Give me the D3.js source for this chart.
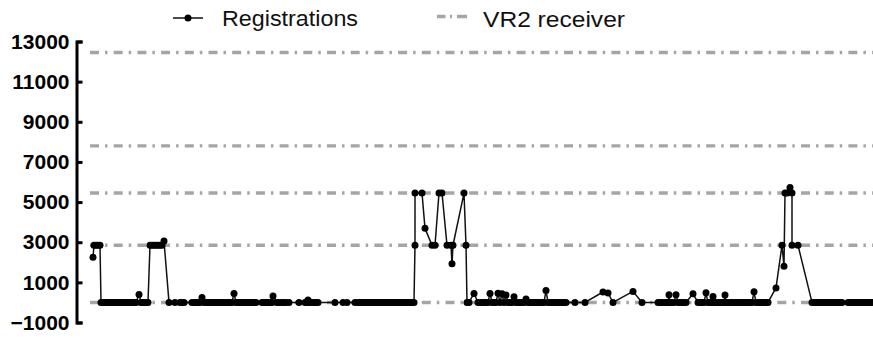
<!DOCTYPE html>
<html>
<head>
<meta charset="utf-8">
<script src="https://cdn.jsdelivr.net/npm/d3@7"></script>
<style>
  html, body { margin: 0; padding: 0; background: #fff; }
  svg { display: block; }
</style>
</head>
<body>
<svg id="chart" width="873" height="338"></svg>
<script>
// ---- data (day index, number of registrations) ----
const registrations = [
  [1.5,2250],[2,2850],[3,2850],[4,2850],[5,2850],[5.5,0],
  [6,0],[7,0],[8,0],[9,0],[10,0],[11,0],[12,0],[13,0],[14,0],[15,0],[16,0],[17,0],[18,0],[19,0],[20,0],[21,0],[22,0],[23,0],
  [24.5,400],[25.5,0],[26,0],[27,0],[28,0],[29,0],
  [30,2850],[31,2850],[32,2850],[33,2850],[34,2850],[35,2850],[36,2850],[37,3060],
  [39.5,0],[42.5,0],[45,0],[46,0],[47,0],
  [51,0],[52,0],[53,0],[54,0],[55,0],[56,250],[57,0],[58,0],[59,0],[60,0],[61,0],[62,0],[63,0],[64,0],[65,0],[66,0],[67,0],[68,0],[69,0],[70,0],[71,0],
  [72,450],[73,0],[74,0],[75,0],[76,0],[77,0],[78,0],[79,0],[80,0],[81,0],[82,0],[83,0],
  [86,0],[87,0],[88,0],[89,0],[90,0],[91,0],[91.5,320],[93.5,0],
  [94,0],[95,0],[96,0],[97,0],[98,0],[99.5,0],[104.5,0],
  [107.5,0],[108.5,0],[109,120],[110,0],[111,0],[112,0],[113,0],[114,0],
  [122.5,0],[126.5,0],[128.5,0],[132.5,0],
  [134,0],[135,0],[136,0],[137,0],[138,0],[139,0],[140,0],[141,0],[142,0],[143,0],[144,0],[145,0],[146,0],[147,0],[148,0],
  [149,0],[150,0],[151,0],[152,0],[153,0],[154,0],[155,0],[156,0],[157,0],[158,0],[159,0],[160,0],[161,0],[162,0],
  [162.5,2850],[162.5,5450],[166,5450],[167.5,3690],[171,2850],[172.5,2850],[174.5,5450],[176,5450],
  [178.5,2850],[180.5,2850],[181,1930],[181.5,2850],[187,5450],[188,2850],[188.5,0],
  [189.5,0],[192,450],[194,0],
  [195,0],[196,0],[197,0],[198,0],[199,0],[200,450],[201,0],[202,0],[203,0],[204,460],[205,0],[206,430],[207,0],[208,370],
  [209,0],[210,0],[211,0],[212,280],[213,0],[214,0],[215,0],[216,0],[217,0],[218,170],[219,0],[220,0],[221,0],[222,0],
  [223,0],[224,0],[225,0],[226,0],[227,0],[228,600],[229,0],[230,0],[231,0],[232,0],[233,0],[234,0],[235,0],[236,0],[237,0],[238,0],
  [242.5,0],[247.5,0],[256.5,520],[259,470],[261.5,0],[271.5,550],[276,0],
  [284,0],[285,0],[286,0],[287,0],[288,0],[289,0],[289.5,380],[290,0],[291,0],[292,0],[293,380],[294,0],[295,0],[296,0],[297,0],[298,0],
  [301.5,430],
  [304,0],[305,0],[306,0],[307,0],[308,480],[309,0],[310,0],[311,0],[311.5,300],[312,0],[313,0],[314,0],[315,0],[316,0],[317,0],[317.5,370],
  [318,0],[319,0],[320,0],[321,0],[322,0],[323,0],[324,0],[325,0],[326,0],[327,0],[328,0],[329,0],[330,0],[331,0],[332,530],
  [333,0],[334,0],[335,0],[336,0],[337,0],[338,0],[339,0],
  [343,720],[346,2850],[347,1800],[347.5,5450],[348.5,5450],[350,5730],[351,5450],[351,2850],[354,2850],
  [361,0],[362,0],[363,0],[364,0],[365,0],[366,0],[367,0],[368,0],[369,0],[370,0],[371,0],[372,0],[373,0],[374,0],[375,0],[376,0],
  [379,0],[380,0],[381,0],[382,0],[383,0],[384,0],[385,0],[386,0],[387,0],[388,0],[389,0],[390,0],[391,0],[392,0]
];
const receiverLevels = [0, 2850, 5450, 7800, 12450];
const yTicks = [-1000, 1000, 3000, 5000, 7000, 9000, 11000, 13000];
const xDomain = [0, 392];
const yDomain = [-1000, 13000];
const legendLabels = ["Registrations", "VR2 receiver"];

// ---- drawing ----
const svg = d3.select("#chart");
const W = 873, H = 338;
svg.append("rect").attr("width", W).attr("height", H).attr("fill", "#fff");

const x = d3.scaleLinear().domain(xDomain).range([90, 874]);
const y = d3.scaleLinear().domain(yDomain).range([322.5, 41.5]);

svg.append("defs").append("clipPath").attr("id", "plotClip")
  .append("rect").attr("x", 84).attr("y", 0).attr("width", W - 84).attr("height", H);

// reference lines
const refColor = "#a5a5a5";
const refDash = "9,6,2.5,6.2";
svg.append("g").attr("clip-path", "url(#plotClip)")
  .selectAll("line").data(receiverLevels).join("line")
  .attr("x1", x(xDomain[0])).attr("x2", W)
  .attr("y1", d => y(d)).attr("y2", d => y(d))
  .attr("stroke", refColor).attr("stroke-width", 3.4)
  .attr("stroke-dasharray", refDash);

// data line and markers
const plot = svg.append("g").attr("clip-path", "url(#plotClip)");
plot.append("path")
  .datum(registrations)
  .attr("fill", "none").attr("stroke", "#111").attr("stroke-width", 1.5)
  .attr("stroke-linejoin", "round")
  .attr("d", d3.line().x(d => x(d[0])).y(d => y(d[1])));
plot.selectAll("circle").data(registrations).join("circle")
  .attr("cx", d => x(d[0])).attr("cy", d => y(d[1])).attr("r", 3.5)
  .attr("fill", "#000");

// y axis
const yAxis = d3.axisLeft(y).tickValues(yTicks)
  .tickSizeInner(-6).tickSizeOuter(-6).tickPadding(7)
  .tickFormat(d3.format("d"));
const gy = svg.append("g").attr("transform", "translate(76.5,0)").call(yAxis);
gy.select(".domain").attr("stroke", "#000").attr("stroke-width", 3).attr("fill", "none");
gy.selectAll(".tick line").attr("stroke", "#000").attr("stroke-width", 3);
gy.selectAll(".tick text")
  .attr("font-family", "'Liberation Sans', Arial, sans-serif")
  .attr("font-weight", "bold").attr("font-size", 21).attr("fill", "#000");

// legend
const lg = svg.append("g").attr("font-family", "'Liberation Sans', Arial, sans-serif").attr("font-size", 22);
lg.append("line").attr("x1", 173).attr("x2", 203).attr("y1", 18).attr("y2", 18)
  .attr("stroke", "#111").attr("stroke-width", 1.5);
lg.append("circle").attr("cx", 188).attr("cy", 18).attr("r", 3.5).attr("fill", "#000");
lg.append("text").attr("x", 222).attr("y", 26).text(legendLabels[0])
  .attr("textLength", 136).attr("lengthAdjust", "spacingAndGlyphs").attr("fill", "#111");
lg.append("line").attr("x1", 437).attr("x2", 467).attr("y1", 16.5).attr("y2", 16.5)
  .attr("stroke", refColor).attr("stroke-width", 3.4).attr("stroke-dasharray", "8.5,4.5,2,5,10");
lg.append("text").attr("x", 483).attr("y", 26.5).text(legendLabels[1])
  .attr("textLength", 142).attr("lengthAdjust", "spacingAndGlyphs").attr("fill", "#111");
</script>
</body>
</html>
